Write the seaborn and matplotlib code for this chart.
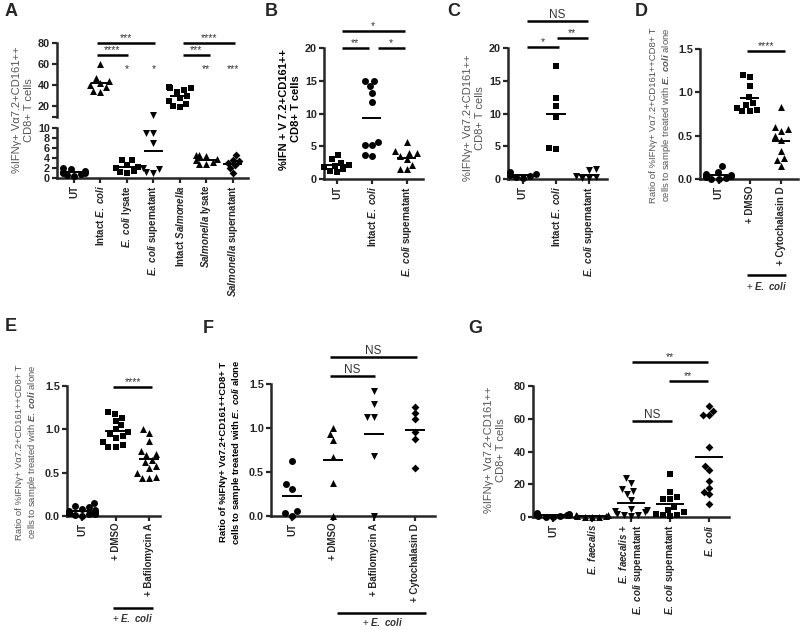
import numpy as np
import seaborn as sns
import matplotlib.pyplot as plt

sns.set_style('ticks')
plt.rcParams['font.family'] = ['Liberation Sans', 'DejaVu Sans']
plt.rcParams['mathtext.fontset'] = 'custom'
plt.rcParams['mathtext.it'] = 'Liberation Sans:italic:bold'
plt.rcParams['mathtext.rm'] = 'Liberation Sans:bold'

EC = r'$\it{E.\ coli}$'
SAL = r'$\it{Salmonella}$'
EF = r'$\it{E.\ faecalis}$'

# panel A
a_cats = ['UT', 'Intact ' + EC, EC + ' lysate', EC + ' supernatant',
          'Intact ' + SAL, SAL + ' lysate', SAL + ' supernatant']
a_ut = [2.0, 1.8, 1.5, 1.3, 1.0, 0.8, 0.6, 0.5, 1.1]
a_ecoli = [60, 47, 44, 42, 40, 38, 35, 34]
a_ecoli_lys = [3.6, 3.5, 2.6, 2.2, 2.0, 1.5, 1.0, 1.2]
a_ecoli_sup = [12.0, 9.0, 9.0, 7.0, 2.0, 1.8, 1.2, 1.0]
a_salm = [38, 37.5, 37, 36, 34, 30, 28, 25, 22, 20, 19]
a_salm_lys = [4.5, 4.5, 4.3, 3.8, 3.5, 3.2, 2.8, 2.8]
a_salm_sup = [4.5, 3.6, 3.4, 3.0, 2.6, 2.0, 1.0]
a_markers = ['o', '^', 's', 'v', 's', '^', 'D']

# panel B
b_cats = ['UT', 'Intact ' + EC, EC + ' supernatant']
b_ut = [3.6, 3.0, 2.5, 2.2, 2.0, 1.8, 1.5, 1.2, 1.0]
b_ecoli = [15.0, 15.0, 14.2, 13.2, 11.8, 5.7, 5.2, 5.2, 3.7, 3.5]
b_sup = [5.6, 4.2, 4.0, 4.0, 3.5, 3.0, 2.2, 1.5, 1.5]
b_markers = ['s', 'o', '^']

# panel C
c_cats = ['UT', 'Intact ' + EC, EC + ' supernatant']
c_ut = [1.0, 0.8, 0.6, 0.5, 0.3, 0.2]
c_ecoli = [17.2, 12.4, 11.1, 9.5, 4.7, 4.6]
c_sup = [1.5, 1.3, 0.5, 0.3, 0.2, 0.1]
c_markers = ['o', 's', 'v']

# panel D
d_cats = ['UT', '+ DMSO', '+ Cytochalasin D']
d_ut = [0.15, 0.08, 0.06, 0.05, 0.04, 0.03, 0.02, 0.01, 0.0, 0.0]
d_dmso = [1.2, 1.18, 1.07, 0.95, 0.88, 0.85, 0.82, 0.8, 0.78, 0.78]
d_cyto = [0.83, 0.6, 0.58, 0.55, 0.5, 0.45, 0.32, 0.24, 0.22, 0.15]
d_markers = ['o', 's', '^']

# panel E
e_cats = ['UT', '+ DMSO', '+ Bafilomycin A']
e_ut = [0.15, 0.12, 0.1, 0.08, 0.07, 0.06, 0.05, 0.04, 0.04, 0.03, 0.02, 0.02, 0.01, 0.0]
e_dmso = [1.2, 1.18, 1.13, 1.1, 1.05, 1.0, 0.97, 0.95, 0.92, 0.9, 0.85, 0.82, 0.8, 0.8]
e_baf = [1.0, 0.96, 0.86, 0.75, 0.72, 0.7, 0.65, 0.62, 0.58, 0.55, 0.5, 0.45, 0.44, 0.44]
e_markers = ['o', 's', '^']

# panel F
f_cats = ['UT', '+ DMSO', '+ Bafilomycin A', '+ Cytochalasin D']
f_ut = [0.62, 0.36, 0.31, 0.06, 0.03, 0.0]
f_dmso = [1.0, 0.93, 0.86, 0.67, 0.38, 0.0]
f_baf = [1.42, 1.27, 1.13, 1.12, 0.68, 0.0]
f_cyto = [1.24, 1.17, 1.1, 0.96, 0.87, 0.55]
f_markers = ['o', '^', 'v', 'D']

# panel G
g_cats = ['UT', EF, EF + ' +\n' + EC + ' supernatant', EC + ' supernatant', EC]
g_ut = [2.5, 2.0, 1.5, 1.2, 1.0, 0.8, 0.5, 0.3, 0.0]
g_faec = [1.5, 1.0, 0.8, 0.5, 0.3, 0.2, 0.1]
g_faec_sup = [24, 21, 17, 16, 14, 10.5, 5, 4, 3.5, 3, 2, 1.5, 1, 0.5]
g_sup = [26, 15.5, 12.5, 11, 11, 6, 4.5, 3, 2, 1.5, 1, 0.5]
g_ecoli = [67.5, 65, 62.5, 62.5, 42.5, 31, 28.5, 22, 18, 15.5, 14, 8]
g_markers = ['o', '^', 'v', 's', 'D']

LBL = '%IFNγ+ Vα7.2+CD161++\nCD8+ T cells'
RATIO = 'Ratio of %IFNγ+ Vα7.2+CD161++CD8+ T\ncells to sample treated with ' + EC + ' alone'
GREY = '#555555'

fig = plt.figure(figsize=(8, 6.3), dpi=100)


def px_axes(x0, x1, ytop, ybot):
    return fig.add_axes([x0 / 800, 1 - ybot / 630, (x1 - x0) / 800, (ybot - ytop) / 630])


def draw_groups(ax, cats, groups, markers, only=None):
    for i, (vals, m) in enumerate(zip(groups, markers)):
        if only is not None:
            vals = [v for v in vals if only(v)]
        if len(vals) == 0:
            continue
        sz = 4.0 if m == 'D' else 5.0
        sns.swarmplot(x=[cats[i]] * len(vals), y=vals, order=cats, marker=m,
                      color='black', size=sz, ax=ax, warn_thresh=1)
    for c in ax.collections:
        c.set_clip_on(False)


def means(ax, groups, half, only=None):
    for i, vals in enumerate(groups):
        mu = np.mean(vals)
        if only is None or only(mu):
            ax.hlines(mu, i - half, i + half, color='black', lw=1.4, zorder=5)


def style(ax, xlim, ylim, yticks, cats=None):
    ax.set_xlim(*xlim)
    ax.set_ylim(*ylim)
    ax.set_yticks(yticks)
    for s in ['top', 'right']:
        ax.spines[s].set_visible(False)
    for s in ['left', 'bottom']:
        ax.spines[s].set_linewidth(1.8)
    ax.tick_params(width=1.6, length=3.5, labelsize=7.8, pad=1.5)
    for t in ax.get_yticklabels():
        t.set_fontweight('bold')
    ax.set_xlabel('')
    ax.set_ylabel('')
    if cats is not None:
        ax.set_xticks(range(len(cats)))
        ax.set_xticklabels(cats, rotation=90, fontsize=7, fontweight='bold')
        for t in ax.get_xticklabels():
            t.set_multialignment('right')


def bar(ax, x0, x1, y, txt, fs=7.5, color='#333333'):
    ax.plot([x0, x1], [y, y], color='black', lw=1.8, clip_on=False, solid_capstyle='butt')
    ax.text((x0 + x1) / 2, y, txt, ha='center', va='bottom', fontsize=fs, color=color)


def underline(ax, x0, x1, y, ty, tx):
    ax.plot([x0, x1], [y, y], color='black', lw=1.8, clip_on=False, solid_capstyle='butt')
    ax.text(tx, ty, '+ $\\it{E.\\ coli}$', ha='center', va='center', fontsize=7, color='#333333')


# ---- A ----
a_groups = [a_ut, a_ecoli, a_ecoli_lys, a_ecoli_sup, a_salm, a_salm_lys, a_salm_sup]
axA_top = px_axes(57, 248, 43, 117)
axA_bot = px_axes(57, 248, 128, 178)
draw_groups(axA_top, a_cats, a_groups, a_markers, only=lambda v: v > 10)
draw_groups(axA_bot, a_cats, a_groups, a_markers, only=lambda v: v <= 10)
means(axA_top, a_groups, 0.36, only=lambda v: v > 10)
means(axA_bot, a_groups, 0.36, only=lambda v: v <= 10)
style(axA_top, (-0.64, 6.57), (10, 80), [10, 20, 40, 60, 80])
axA_top.set_yticklabels(['', '20', '40', '60', '80'], fontweight='bold')
axA_top.spines['bottom'].set_visible(False)
axA_top.set_xticks([])
style(axA_bot, (-0.64, 6.57), (0, 10), [0, 2, 4, 6, 8, 10], a_cats)
bar(axA_top, 0.87, 3.06, 80, '***')
bar(axA_top, 0.87, 2.04, 68.75, '****')
bar(axA_top, 4.11, 6.08, 80, '****')
bar(axA_top, 4.11, 5.13, 68.75, '***')
for x, s in [(2, '*'), (3, '*'), (5, '**'), (6, '***')]:
    axA_top.text(x, 55, s, ha='center', va='center', fontsize=7.5, color='#333333')

# ---- B ----
axB = px_axes(324, 423, 48, 179)
b_groups = [b_ut, b_ecoli, b_sup]
draw_groups(axB, b_cats, b_groups, b_markers)
means(axB, b_groups, 0.27)
style(axB, (-0.37, 2.46), (0, 20), [0, 5, 10, 15, 20], b_cats)
bar(axB, 0.14, 1.94, 22.6, '*')
bar(axB, 0.14, 0.91, 20, '**')
bar(axB, 1.17, 1.94, 20, '*')

# ---- C ----
axC = px_axes(508, 607, 48, 179)
c_groups = [c_ut, c_ecoli, c_sup]
draw_groups(axC, c_cats, c_groups, c_markers)
means(axC, c_groups, 0.3)
style(axC, (-0.45, 2.55), (0, 20), [0, 5, 10, 15, 20], c_cats)
bar(axC, 0.12, 1.97, 24.1, 'NS', fs=8.5)
bar(axC, 1.03, 1.97, 21.5, '**')
bar(axC, 0.12, 1.09, 20.2, '*')

# ---- D ----
axD = px_axes(700, 798, 49, 179)
d_groups = [d_ut, d_dmso, d_cyto]
draw_groups(axD, d_cats, d_groups, d_markers)
means(axD, d_groups, 0.3)
style(axD, (-0.6, 2.55), (0, 1.5), [0, 0.5, 1.0, 1.5], d_cats)
axD.set_yticklabels(['0.0', '0.5', '1.0', '1.5'], fontweight='bold')
bar(axD, 0.9, 2.13, 1.48, '****')
underline(axD, 0.9, 2.16, -1.107, -1.234, 1.53)

# ---- E ----
axE = px_axes(67, 160, 386, 516)
e_groups = [e_ut, e_dmso, e_baf]
draw_groups(axE, e_cats, e_groups, e_markers)
means(axE, e_groups, 0.3)
style(axE, (-0.45, 2.33), (0, 1.5), [0, 0.5, 1.0, 1.5], e_cats)
axE.set_yticklabels(['0.0', '0.5', '1.0', '1.5'], fontweight='bold')
bar(axE, 0.93, 2.09, 1.49, '****')
underline(axE, 0.93, 2.12, -1.06, -1.18, 1.5)

# ---- F ----
axF = px_axes(271, 435, 384, 516)
f_groups = [f_ut, f_dmso, f_baf, f_cyto]
draw_groups(axF, f_cats, f_groups, f_markers)
means(axF, f_groups, 0.25)
style(axF, (-0.51, 3.49), (0, 1.5), [0, 0.5, 1.0, 1.5], f_cats)
axF.set_yticklabels(['0.0', '0.5', '1.0', '1.5'], fontweight='bold')
bar(axF, 0.93, 3.05, 1.81, 'NS', fs=8.5)
bar(axF, 0.93, 2.02, 1.59, 'NS', fs=8.5)
underline(axF, 1.1, 3.27, -1.10, -1.2, 2.2)

# ---- G ----
axG = px_axes(533, 729, 386, 517)
g_groups = [g_ut, g_faec, g_faec_sup, g_sup, g_ecoli]
draw_groups(axG, g_cats, g_groups, g_markers)
means(axG, g_groups, 0.36)
style(axG, (-0.51, 4.51), (0, 80), [0, 20, 40, 60, 80], g_cats)
bar(axG, 2.03, 3.97, 94.7, '**')
bar(axG, 2.97, 3.97, 83, '**')
bar(axG, 2.03, 3.05, 58.6, 'NS', fs=8.5)


# y labels
def ylab(x, y, txt, bold=False, fs=8):
    fig.text(x / 800, 1 - y / 630, txt, rotation=90, ha='center', va='center',
             multialignment='center', fontsize=fs,
             color='black' if bold else GREY, fontweight='bold' if bold else 'normal')


ylab(23, 110, LBL)
ylab(290, 109, '%IFN + V 7.2+CD161++\nCD8+ T cells', bold=True)
ylab(474, 118, LBL)
ylab(661, 115, RATIO, fs=6.8)
ylab(27, 452, RATIO, fs=6.8)
ylab(231, 452, RATIO, bold=True, fs=6.8)
ylab(495, 450, LBL)

for x, y, s in [(5, 3, 'A'), (265, 3, 'B'), (447, 3, 'C'), (635, 3, 'D'),
                (5, 318, 'E'), (203, 320, 'F'), (468, 320, 'G')]:
    fig.text(x / 800, 1 - y / 630, s, fontsize=13, fontweight='bold', va='top', ha='left')

fig.savefig('out.png', dpi=100)
